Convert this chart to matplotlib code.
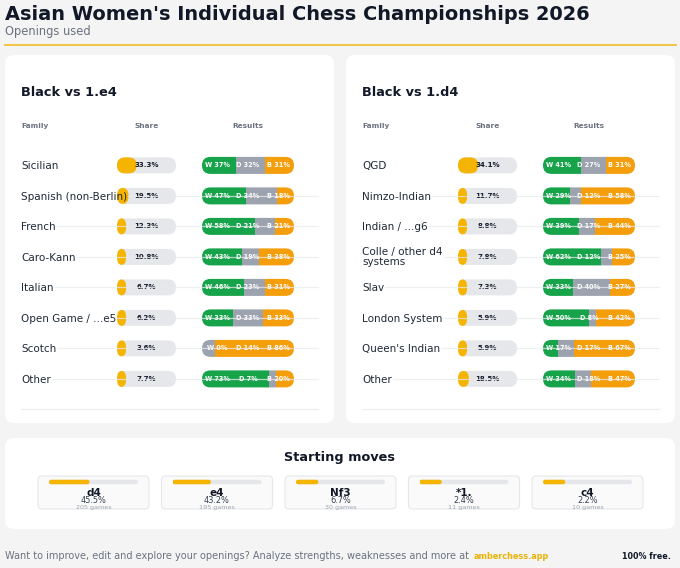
import matplotlib
matplotlib.use("Agg")
import matplotlib.pyplot as plt
import matplotlib.transforms as mtransforms
from matplotlib.patches import FancyBboxPatch

# Black vs 1.e4
e4_families = ["Sicilian", "Spanish (non-Berlin)", "French", "Caro-Kann",
               "Italian", "Open Game / ...e5", "Scotch", "Other"]
e4_share = [33.3, 19.5, 12.3, 10.8, 6.7, 6.2, 3.6, 7.7]
e4_white = [37, 47, 58, 43, 46, 33, 0, 73]
e4_draw = [32, 34, 21, 19, 23, 33, 14, 7]
e4_black = [31, 18, 21, 38, 31, 33, 86, 20]

# Black vs 1.d4
d4_families = ["QGD", "Nimzo-Indian", "Indian / ...g6", "Colle / other d4\nsystems",
               "Slav", "London System", "Queen's Indian", "Other"]
d4_share = [34.1, 11.7, 8.8, 7.8, 7.3, 5.9, 5.9, 18.5]
d4_white = [41, 29, 39, 62, 33, 50, 17, 34]
d4_draw = [27, 12, 17, 12, 40, 8, 17, 18]
d4_black = [31, 58, 44, 25, 27, 42, 67, 47]

# starting moves
moves = ["d4", "e4", "Nf3", "*1.", "c4"]
move_share = [45.5, 43.2, 6.7, 2.4, 2.2]
move_games = [205, 195, 30, 11, 10]

DARK = '#111827'
MUTED = '#6b7280'
GREEN = '#16a34a'
GREY = '#9ca3af'
ORANGE = '#f59e0b'
YELLOW = '#f4b400'
TRACK = '#e5e7eb'

W, H = 680, 568
fig = plt.figure(figsize=(W / 100, H / 100), dpi=100)
fig.patch.set_facecolor('#f4f4f4')


def px_axes(x0, y0, x1, y1, z):
    ax = fig.add_axes([x0 / W, 1 - y1 / H, (x1 - x0) / W, (y1 - y0) / H])
    ax.set_zorder(z)
    ax.axis('off')
    return ax


def pill(ax, x0, width, yc, h_px, **kw):
    # rounded bar in data coords; narrow ones become ovals
    pos = ax.get_position()
    xl, yl = ax.get_xlim(), ax.get_ylim()
    sx = pos.width * W / abs(xl[1] - xl[0])
    sy = pos.height * H / abs(yl[1] - yl[0])
    h = h_px / sy
    if width * sx >= h_px:
        m = sx / sy
        r = (h_px / 2) / sx
    else:
        m = h / width
        r = width / 2
    p = FancyBboxPatch((x0, yc - h / 2), width, h,
                       boxstyle=f"round,pad=0,rounding_size={r}",
                       mutation_aspect=m, ec='none', **kw)
    ax.add_patch(p)
    return p


bg = px_axes(0, 0, W, H, 0)
bg.set_xlim(0, W)
bg.set_ylim(H, 0)
top = px_axes(0, 0, W, H, 5)
top.set_xlim(0, W)
top.set_ylim(H, 0)

# header
bg.text(5, 19.5, "Asian Women's Individual Chess Championships 2026",
        fontsize=13.95, weight='bold', color=DARK)
bg.text(5, 35.5, "Openings used", fontsize=8.3, color=MUTED)
bg.plot([5, 676], [45.3, 45.3], color='#f2c037', lw=1.3)

ROW0, STEP = 165.4, 30.5
pending = []


def draw_panel(xo, title, fams, share, white, draw, black):
    bg.add_patch(FancyBboxPatch((xo + 5, 55), 329, 368, boxstyle='round,pad=0,rounding_size=9',
                                fc='white', ec='none'))
    bg.text(xo + 21, 96.5, title, fontsize=9.3, weight='bold', color=DARK)
    hdr = dict(fontsize=5.3, weight='bold', color=MUTED)
    bg.text(xo + 21, 128, 'Family', **hdr)
    bg.text(xo + 146.5, 128, 'Share', ha='center', **hdr)
    bg.text(xo + 248, 128, 'Results', ha='center', **hdr)

    n = len(fams)
    ytop, ybot = ROW0 - STEP / 2, ROW0 + (n - 0.5) * STEP
    sax = px_axes(xo + 117, ytop, xo + 176, ybot, 1)
    sax.set_xlim(0, 100)
    sax.set_ylim(n - 0.5, -0.5)
    rax = px_axes(xo + 202, ytop, xo + 294, ybot, 1)
    rax.set_xlim(0, 100)
    rax.set_ylim(n - 0.5, -0.5)

    for i in range(n):
        pill(sax, 0, 100, i, 16, fc=TRACK)
        pill(sax, 0, max(share[i], 15.5), i, 16, fc=YELLOW)
        sax.text(50, i, f"{share[i]}%", ha='center', va='center',
                 fontsize=5.0, weight='bold', color=DARK)

        clip = pill(rax, 0, 100, i, 17, fc='none')
        tot = white[i] + draw[i] + black[i]
        left = 0
        for v, c in zip([white[i], draw[i], black[i]], [GREEN, GREY, ORANGE]):
            bars = rax.barh(i, v / tot * 100, left=left, height=0.8, color=c)
            for b in bars:
                b.set_clip_path(clip)
            left += v / tot * 100
        for x, tag, v in zip([100 / 6, 50, 500 / 6], "WDB", [white[i], draw[i], black[i]]):
            rax.text(x, i, f"{tag} {v}%", ha='center', va='center',
                     fontsize=4.7, weight='bold', color='white')

    blend = mtransforms.blended_transform_factory(top.transData, sax.transData)
    for i, name in enumerate(fams):
        if '\n' in name:
            t = top.text(xo + 21, i, name, va='center', fontsize=7.5, color='#1f2937',
                         linespacing=0.95, transform=blend, zorder=3)
        else:
            t = top.text(xo + 21, i + 0.125, name, va='baseline', fontsize=7.5,
                         color='#1f2937', transform=blend, zorder=3)
        pending.append((t, i, xo, blend))
    top.plot([xo + 21, xo + 318], [n, n], transform=blend, color='#eeeeee', lw=0.9, zorder=2)


draw_panel(0, "Black vs 1.e4", e4_families, e4_share, e4_white, e4_draw, e4_black)
draw_panel(341, "Black vs 1.d4", d4_families, d4_share, d4_white, d4_draw, d4_black)

# row rules start where each label ends
fig.canvas.draw()
renderer = fig.canvas.get_renderer()
for t, i, xo, blend in pending:
    if i == 0:
        continue
    x_end = t.get_window_extent(renderer).x1
    top.plot([x_end + 1, xo + 318], [i, i], transform=blend,
             color='#e9eaec', alpha=0.75, lw=0.9, zorder=2)

# starting moves
bg.add_patch(FancyBboxPatch((5, 438), 670, 91, boxstyle='round,pad=0,rounding_size=9',
                            fc='white', ec='none'))
bg.text(340, 460.5, 'Starting moves', ha='center', fontsize=9.3, weight='bold', color=DARK)
for k, (m, s, g) in enumerate(zip(moves, move_share, move_games)):
    bx = 38 + k * 123.5
    bg.add_patch(FancyBboxPatch((bx, 476), 111, 33, boxstyle='round,pad=0,rounding_size=4',
                                fc='#fafafa', ec='#e5e7eb', lw=0.8))
    mx = px_axes(bx + 11, 478, bx + 100, 486, 1)
    mx.set_xlim(0, 100)
    mx.set_ylim(-0.5, 0.5)
    pill(mx, 0, 100, 0, 4.5, fc=TRACK)
    pill(mx, 0, max(s, 25), 0, 4.5, fc=YELLOW)
    bg.text(bx + 55.5, 495.5, m, ha='center', fontsize=7.5, weight='bold', color=DARK)
    bg.text(bx + 55.5, 503.3, f"{s}%", ha='center', fontsize=5.9, color='#374151')
    bg.text(bx + 55.5, 508.5, f"{g} games", ha='center', fontsize=4.6, color=GREY)

# footer
bg.text(5, 559, "Want to improve, edit and explore your openings? Analyze strengths, "
        "weaknesses and more at", fontsize=7.0, color=MUTED)
bg.text(474, 559, "amberchess.app", fontsize=5.9, weight='bold', color='#eab308')
bg.text(671, 559, "100% free.", ha='right', fontsize=5.8, weight='bold', color=DARK)

fig.savefig('out.png', dpi=100, facecolor=fig.get_facecolor())
